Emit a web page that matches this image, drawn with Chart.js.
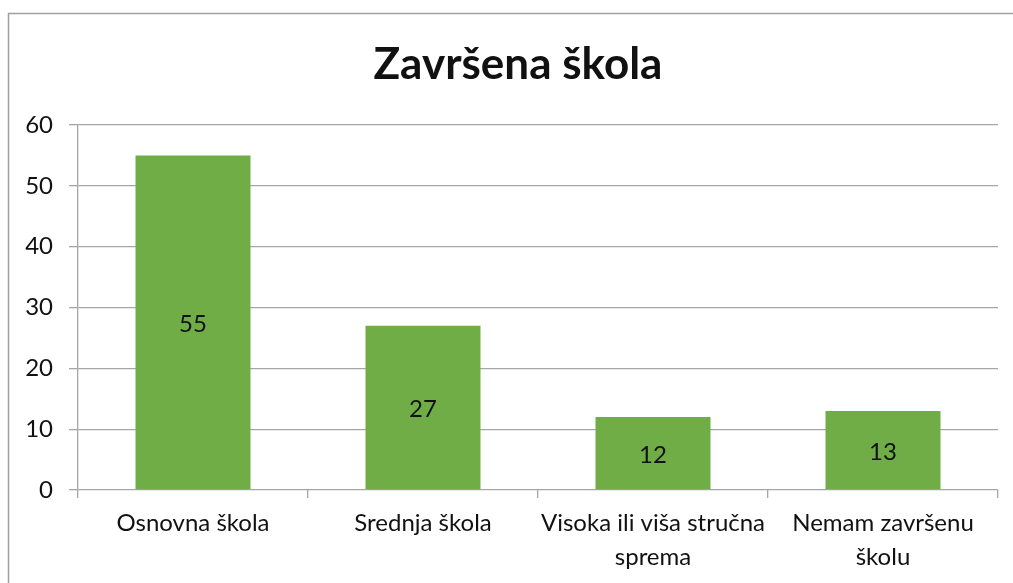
<!DOCTYPE html>
<html>
<head>
<meta charset="utf-8">
<script src="https://cdn.jsdelivr.net/npm/chart.js@4/dist/chart.umd.min.js"></script>
<style>
  body { margin: 0; background: #fff; }
  canvas { display: block; }
</style>
</head>
<body>
<canvas id="schoolChart" width="1013" height="583"></canvas>
<script>
const categories = [
  "Osnovna škola",
  "Srednja škola",
  ["Visoka ili viša stručna", "sprema"],
  ["Nemam završenu", "školu"],
];
const counts = [55, 27, 12, 13];
const yTicks = [0, 10, 20, 30, 40, 50, 60];
const chartTitle = "Završena škola";

const FONT = "Lato, 'Open Sans', sans-serif";
const GRID = "#a6a6a6";

// outer frame + title of the chart object
const framePlugin = {
  id: "frame",
  beforeDraw(chart) {
    const c = chart.ctx;
    c.save();
    c.fillStyle = "#fff";
    c.fillRect(0, 0, chart.width, chart.height);
    c.strokeStyle = "#a0a0a0";
    c.lineWidth = 1.5;
    c.strokeRect(8.5, 13.5, 1100, 700);
    c.font = "bold 44px " + FONT;
    c.fillStyle = "#111";
    c.textAlign = "center";
    c.textBaseline = "middle";
    c.fillText(chartTitle, 518, 65);
    c.restore();
  },
};

// value in the middle of each bar
const barLabels = {
  id: "barLabels",
  afterDatasetsDraw(chart) {
    const c = chart.ctx;
    const meta = chart.getDatasetMeta(0);
    c.save();
    c.font = "24px " + FONT;
    c.fillStyle = "#111";
    c.textAlign = "center";
    c.textBaseline = "middle";
    meta.data.forEach((bar, i) => {
      const mid = (bar.y + bar.base) / 2;
      c.fillText(String(counts[i]), bar.x, mid + 2);
    });
    c.restore();
  },
};

const ctx = document.getElementById("schoolChart").getContext("2d");
const chart = new Chart(ctx, {
  type: "bar",
  data: {
    labels: categories,
    datasets: [
      {
        label: chartTitle,
        data: counts,
        backgroundColor: "#70ad47",
        borderWidth: 0,
        barPercentage: 1,
        categoryPercentage: 0.5,
      },
    ],
  },
  options: {
    responsive: false,
    animation: false,
    layout: {
      padding: { left: 0, right: 15, top: 125, bottom: 0 },
    },
    scales: {
      y: {
        min: 0,
        max: 60,
        afterFit(scale) {
          scale.width = 78;
        },
        afterBuildTicks(scale) {
          scale.ticks = yTicks.map((v) => ({ value: v }));
        },
        grid: {
          color: GRID,
          lineWidth: 1.3,
          tickLength: 9,
          tickColor: GRID,
        },
        border: { display: true, color: GRID, width: 1.3 },
        ticks: {
          font: { family: FONT, size: 24 },
          color: "#111",
          padding: 16,
        },
      },
      x: {
        afterFit(scale) {
          scale.height = 93;
        },
        grid: {
          offset: true,
          drawOnChartArea: false,
          tickLength: 8,
          color: GRID,
          lineWidth: 1.3,
        },
        border: { display: false },
        ticks: {
          font: { family: FONT, size: 24, lineHeight: 1.42 },
          color: "#111",
          padding: 8,
          maxRotation: 0,
          autoSkip: false,
        },
      },
    },
    plugins: {
      legend: { display: false },
      tooltip: { enabled: false },
      title: { display: false },
    },
  },
  plugins: [framePlugin, barLabels],
});
</script>
</body>
</html>
